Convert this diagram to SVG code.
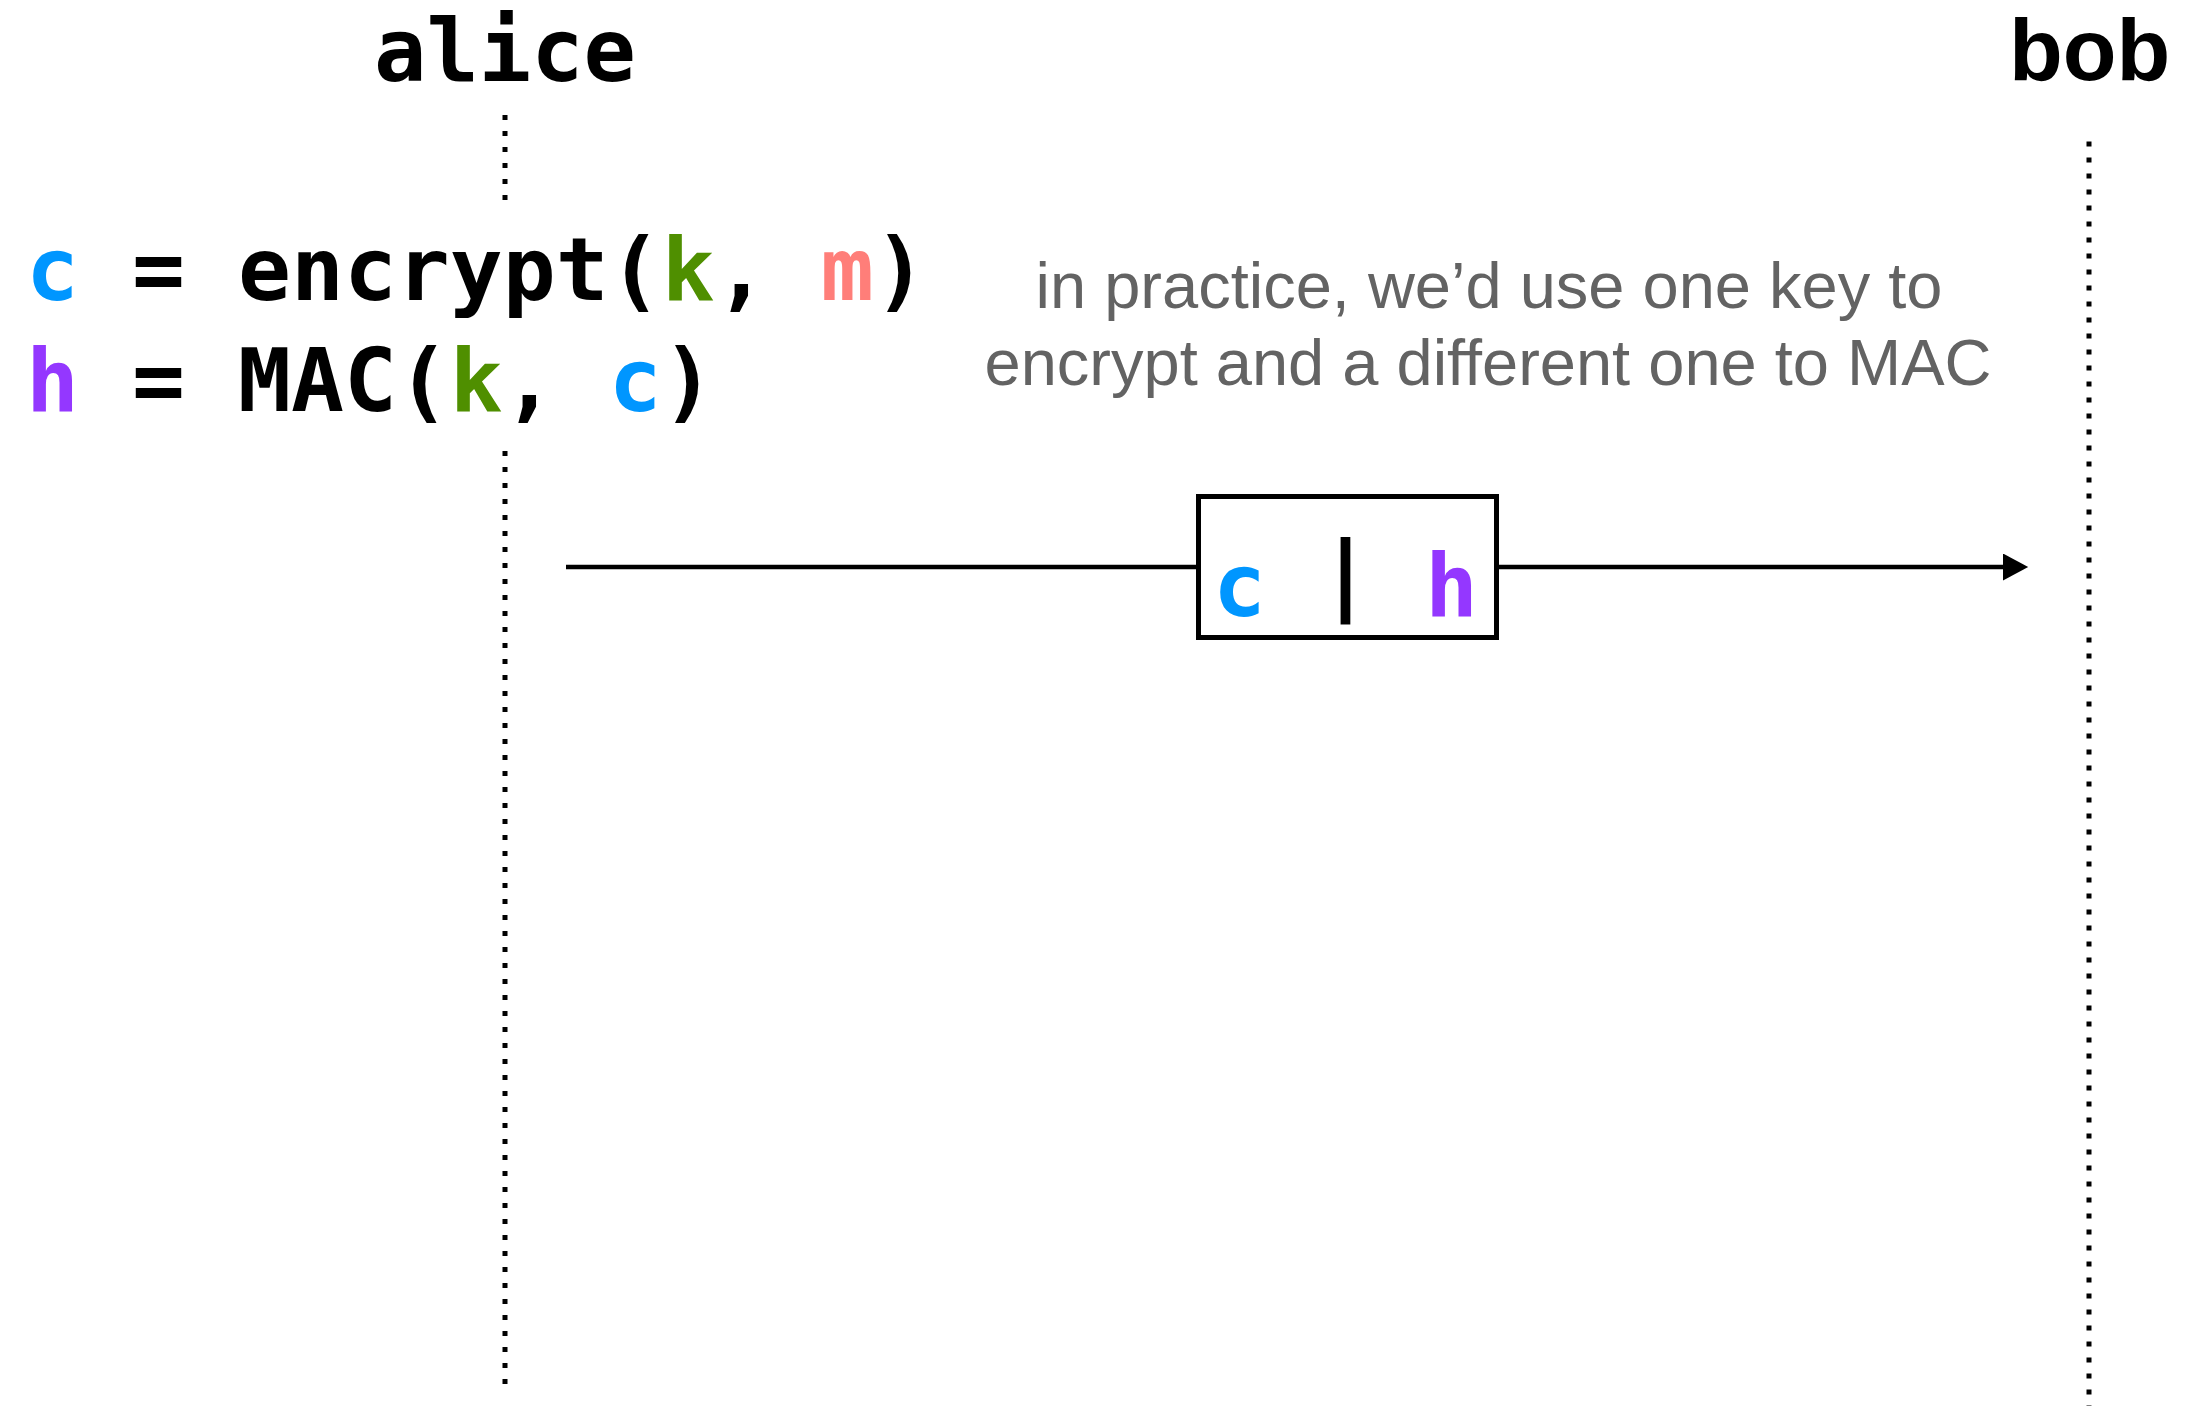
<svg xmlns="http://www.w3.org/2000/svg" width="2192" height="1406" viewBox="0 0 2192 1406">
<style>
.mono{font-family:"DejaVu Sans Mono","Liberation Mono",monospace;font-weight:bold;font-size:88px;fill:#000}
.life{stroke:#000;stroke-width:5;stroke-dasharray:5 11;fill:none}
.note{font-family:"Liberation Sans",Arial,sans-serif;font-size:65px;fill:#636363}
.cb{fill:#0096FF}.ph{fill:#9437FF}.gk{fill:#4F8F00}.rm{fill:#FF7E79}
</style>
<defs>
<marker id="arr" markerWidth="6" markerHeight="6" refX="0" refY="3" orient="auto" markerUnits="strokeWidth">
<path d="M0,0 L5.6,3 L0,6 Z" fill="#000"/>
</marker>
</defs>
<rect width="2192" height="1406" fill="#fff"/>
<g id="alice">
<text class="mono" x="505" y="81" text-anchor="middle" style="font-size:87px">alice</text>
<line class="life" x1="505" y1="115" x2="505" y2="200"/>
<line class="life" x1="505" y1="451" x2="505" y2="1384"/>
</g>
<g id="bob">
<text x="2009" y="80" style="font-family:'Liberation Sans',Arial,sans-serif;font-weight:bold;font-size:88px;fill:#000">bob</text>
<line class="life" x1="2089" y1="141.5" x2="2089" y2="1406"/>
</g>
<g id="formulas">
<text class="mono" x="26" y="300"><tspan class="cb">c</tspan> = encrypt(<tspan class="gk">k</tspan>, <tspan class="rm">m</tspan>)</text>
<text class="mono" x="26" y="411"><tspan class="ph">h</tspan> = MAC(<tspan class="gk">k</tspan>, <tspan class="cb">c</tspan>)</text>
</g>
<g id="note">
<text class="note" x="1489" y="308" text-anchor="middle">in practice, we’d use one key to</text>
<text class="note" x="1488" y="385" text-anchor="middle">encrypt and a different one to MAC</text>
</g>
<g id="connectors">
<line x1="566" y1="567" x2="2003" y2="567" stroke="#000" stroke-width="4.5" marker-end="url(#arr)"/>
</g>
<g id="message">
<rect x="1198.5" y="496.5" width="298" height="141" fill="#fff" stroke="#000" stroke-width="5"/>
<text class="mono" x="1213" y="616"><tspan class="cb">c</tspan> <tspan dy="-13">|</tspan> <tspan class="ph" dy="13">h</tspan></text>
</g>
</svg>
